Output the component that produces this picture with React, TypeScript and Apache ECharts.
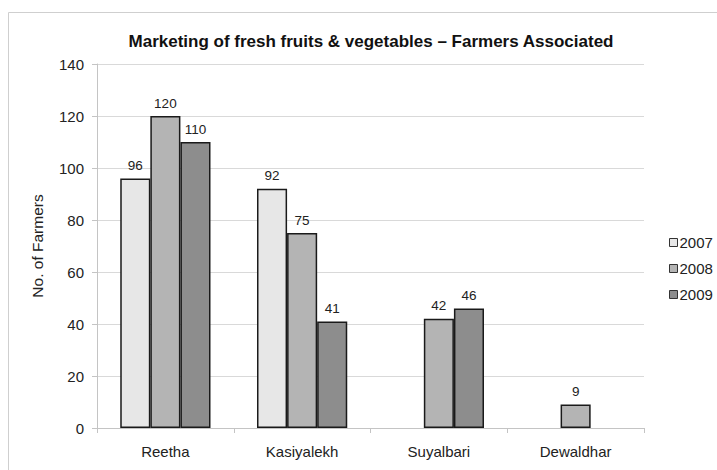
import React, { useEffect, useRef } from "react";
import * as echarts from "echarts";

const categories = ["Reetha", "Kasiyalekh", "Suyalbari", "Dewaldhar"];
const years = ["2007", "2008", "2009"];
const values2007 = [96, 92, null, null];
const values2008 = [120, 75, 42, 9];
const values2009 = [110, 41, 46, null];
const colors = ["#e7e7e7", "#b4b4b4", "#8d8d8d"];

export default function App() {
  const ref = useRef<HTMLDivElement>(null);
  useEffect(() => {
    if (!ref.current) return;
    const chart = echarts.init(ref.current, null, { renderer: "svg" });
    const data = [values2007, values2008, values2009];
    const font = "Liberation Sans, Arial, sans-serif";
    chart.setOption({
      animation: false,
      textStyle: { fontFamily: font },
      title: {
        text: "Marketing of fresh fruits & vegetables \u2013 Farmers Associated",
        left: 366,
        textAlign: "center",
        top: 28,
        textStyle: { fontSize: 17, fontWeight: "bold", color: "#111", fontFamily: font },
      },
      graphic: [
        {
          type: "rect",
          shape: { x: 8.5, y: 12.5, width: 730, height: 480 },
          style: { fill: "none", stroke: "#cfcfcf", lineWidth: 1 },
          silent: true,
          z: -10,
        },
        {
          type: "text",
          x: 37,
          y: 246,
          rotation: Math.PI / 2,
          style: {
            text: "No. of Farmers",
            fontSize: 15.5,
            fill: "#222",
            fontFamily: font,
            align: "center",
            verticalAlign: "middle",
          },
        },
      ],
      legend: {
        orient: "vertical",
        left: 664,
        top: 230,
        itemWidth: 8,
        itemHeight: 8,
        itemGap: 11,
        icon: "rect",
        itemStyle: { borderWidth: 1, borderColor: "#333" },
        textStyle: { fontSize: 15, color: "#222", fontFamily: font, padding: [0, 0, 0, -3] },
        data: years,
      },
      grid: { left: 97, right: 73, top: 64, bottom: 42 },
      xAxis: {
        type: "category",
        data: categories,
        axisLine: { lineStyle: { color: "#c4c4c4", width: 1 } },
        axisTick: { show: true, length: 5, lineStyle: { color: "#c4c4c4" } },
        axisLabel: { fontSize: 15, color: "#222", margin: 16, fontFamily: font },
      },
      yAxis: {
        type: "value",
        min: 0,
        max: 140,
        interval: 20,
        axisLine: { show: true, lineStyle: { color: "#c4c4c4" } },
        axisTick: { show: true, length: 5, lineStyle: { color: "#c4c4c4" } },
        axisLabel: { fontSize: 15, color: "#222", margin: 13, fontFamily: font },
        splitLine: { lineStyle: { color: "#d9d9d9" } },
      },
      series: years.map((y, i) => ({
        name: y,
        type: "bar",
        data: data[i],
        barGap: "0%",
        barCategoryGap: "34%",
        itemStyle: { color: colors[i], borderColor: "#1a1a1a", borderWidth: 1.5 },
        label: {
          show: true,
          position: "top",
          distance: 6,
          fontSize: 13.5,
          color: "#222",
          fontFamily: font,
        },
      })),
    });
    return () => chart.dispose();
  }, []);
  return (
    <div
      ref={ref}
      style={{ position: "absolute", left: 0, top: 0, width: 717, height: 470 }}
    />
  );
}
